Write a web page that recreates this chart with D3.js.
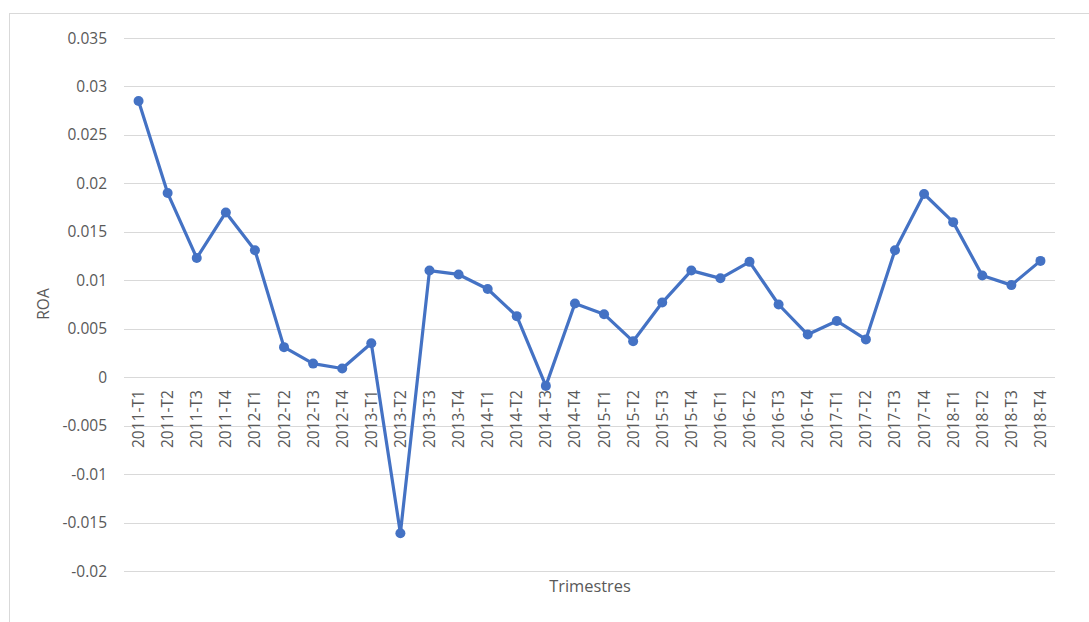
<!DOCTYPE html>
<html>
<head>
<meta charset="utf-8">
<script src="https://cdn.jsdelivr.net/npm/d3@7"></script>
<style>
  body { margin: 0; background: #fff; }
  text { font-family: "Open Sans", "Noto Sans", "DejaVu Sans", sans-serif; fill: #595959; }
</style>
</head>
<body>
<div id="chart"></div>
<script>
const quarters = [
  "2011-T1","2011-T2","2011-T3","2011-T4",
  "2012-T1","2012-T2","2012-T3","2012-T4",
  "2013-T1","2013-T2","2013-T3","2013-T4",
  "2014-T1","2014-T2","2014-T3","2014-T4",
  "2015-T1","2015-T2","2015-T3","2015-T4",
  "2016-T1","2016-T2","2016-T3","2016-T4",
  "2017-T1","2017-T2","2017-T3","2017-T4",
  "2018-T1","2018-T2","2018-T3","2018-T4"
];
const roa = [
  0.0285, 0.0190, 0.0123, 0.0170,
  0.0131, 0.0031, 0.0014, 0.0009,
  0.0035, -0.0161, 0.0110, 0.0106,
  0.0091, 0.0063, -0.0009, 0.0076,
  0.0065, 0.0037, 0.0077, 0.0110,
  0.0102, 0.0119, 0.0075, 0.0044,
  0.0058, 0.0039, 0.0131, 0.0189,
  0.0160, 0.0105, 0.0095, 0.0120
];
const yTicks = [-0.02, -0.015, -0.01, -0.005, 0, 0.005, 0.01, 0.015, 0.02, 0.025, 0.03, 0.035];

const width = 1089, height = 622;
const plotLeft = 124, plotRight = 1055, plotTop = 38, plotBottom = 571;

const svg = d3.select("#chart")
  .append("svg")
  .attr("width", width)
  .attr("height", height);

// outer chart border
svg.append("rect")
  .attr("x", 9.5)
  .attr("y", 13.5)
  .attr("width", 1100)
  .attr("height", 640)
  .attr("fill", "none")
  .attr("stroke", "#d9d9d9")
  .attr("stroke-width", 1);

const x = d3.scalePoint()
  .domain(quarters)
  .range([plotLeft, plotRight])
  .padding(0.5);

const y = d3.scaleLinear()
  .domain([-0.02, 0.035])
  .range([plotBottom, plotTop]);

// gridlines
svg.append("g")
  .selectAll("line")
  .data(yTicks)
  .join("line")
  .attr("x1", plotLeft)
  .attr("x2", plotRight)
  .attr("y1", d => Math.round(y(d)) + 0.5)
  .attr("y2", d => Math.round(y(d)) + 0.5)
  .attr("stroke", "#d9d9d9")
  .attr("stroke-width", 1);

// y tick labels
svg.append("g")
  .selectAll("text")
  .data(yTicks)
  .join("text")
  .text(d => String(+d.toFixed(3)))
  .attr("x", 107)
  .attr("y", d => y(d))
  .attr("dy", "0.36em")
  .attr("text-anchor", "end")
  .style("font-size", "15.5px");

// x tick labels, rotated
svg.append("g")
  .selectAll("text")
  .data(quarters)
  .join("text")
  .text(d => d)
  .attr("transform", d => `translate(${x(d) + 5.5}, ${y(0) + 13}) rotate(-90)`)
  .attr("text-anchor", "end")
  .style("font-size", "15.5px");

// line
const line = d3.line()
  .x((d, i) => x(quarters[i]))
  .y(d => y(d));

svg.append("path")
  .datum(roa)
  .attr("d", line)
  .attr("fill", "none")
  .attr("stroke", "#4472c4")
  .attr("stroke-width", 3.2)
  .attr("stroke-linejoin", "round");

svg.append("g")
  .selectAll("circle")
  .data(roa)
  .join("circle")
  .attr("cx", (d, i) => x(quarters[i]))
  .attr("cy", d => y(d))
  .attr("r", 5)
  .attr("fill", "#4472c4");

// axis titles
svg.append("text")
  .text("ROA")
  .attr("transform", "translate(49, 304) rotate(-90)")
  .attr("text-anchor", "middle")
  .style("font-size", "15.5px");

svg.append("text")
  .text("Trimestres")
  .attr("x", 590)
  .attr("y", 592)
  .attr("text-anchor", "middle")
  .style("font-size", "16.4px");
</script>
</body>
</html>
